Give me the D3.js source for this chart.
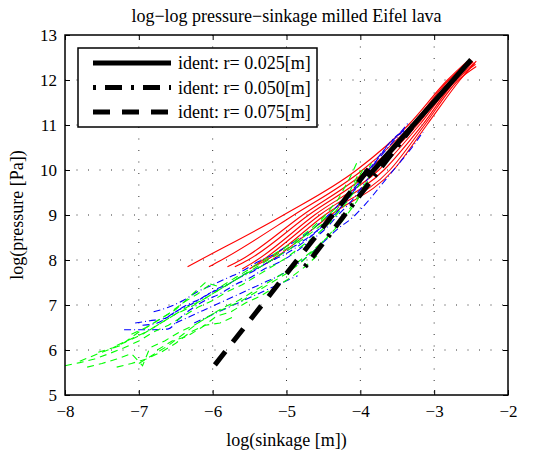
<!DOCTYPE html>
<html>
<head>
<meta charset="utf-8">
<script src="https://cdn.jsdelivr.net/npm/d3@7"></script>
<style>
  body { margin: 0; background: #fff; }
</style>
</head>
<body>
<div id="chart"></div>
<script>
const FONT = "Liberation Serif, Times New Roman, serif";

// Axis ticks
const xTicks = [-8, -7, -6, -5, -4, -3, -2];
const yTicks = [5, 6, 7, 8, 9, 10, 11, 12, 13];

// Measured runs, r = 0.025 m (red)
const redRuns = [
    [[-6.34,7.85],[-6.17,8.0],[-5.04,9.0],[-4.05,10.0],[-3.35,11.0],[-2.82,12.0],[-2.55,12.42]],
    [[-6.05,7.85],[-5.88,8.0],[-4.9,9.0],[-3.97,10.0],[-3.31,11.0],[-2.8,12.0],[-2.5,12.45]],
    [[-5.8,7.85],[-5.62,8.0],[-4.78,9.0],[-3.9,10.0],[-3.27,11.0],[-2.77,12.0],[-2.48,12.42]],
    [[-5.7,7.85],[-5.52,8.0],[-4.7,9.0],[-3.83,10.0],[-3.23,11.0],[-2.75,12.0],[-2.47,12.4]],
    [[-5.6,7.8],[-5.4,8.0],[-4.62,9.0],[-3.75,10.0],[-3.2,11.0],[-2.72,12.0],[-2.45,12.38]],
    [[-5.5,7.8],[-5.32,8.0],[-4.55,9.0],[-3.68,10.0],[-3.16,11.0],[-2.7,12.0],[-2.44,12.35]],
    [[-5.45,7.85],[-5.27,8.0],[-4.48,9.0],[-3.6,10.0],[-3.13,11.0],[-2.67,12.0],[-2.43,12.3]],
    [[-5.3,7.9],[-5.2,8.0],[-4.4,9.0],[-3.55,10.0],[-3.1,11.0],[-2.65,12.0],[-2.43,12.42]]
];

// Measured runs, r = 0.050 m (blue)
const blueRuns = [
    [[-7.2,6.45],[-7.0,6.45],[-6.8,6.45],[-6.6,6.47],[-6.45,6.7],[-6.3,6.9],[-6.1,7.1],[-5.9,7.25],[-5.7,7.45],[-5.5,7.6],[-5.3,7.8],[-5.1,7.95],[-4.9,8.15],[-4.7,8.4],[-4.5,8.65],[-4.3,9.0],[-4.1,9.35],[-3.9,9.8],[-3.7,10.2],[-3.5,10.65],[-3.3,11.0]],
    [[-7.05,6.6],[-6.85,6.65],[-6.65,6.7],[-6.45,6.9],[-6.25,7.05],[-6.05,7.25],[-5.85,7.4],[-5.65,7.6],[-5.45,7.75],[-5.25,7.95],[-5.05,8.1],[-4.85,8.3],[-4.65,8.55],[-4.45,8.85],[-4.25,9.2],[-4.05,9.6],[-3.85,10.05],[-3.65,10.5],[-3.45,10.85],[-3.35,11.05]],
    [[-6.95,6.55],[-6.75,6.6],[-6.55,6.8],[-6.35,7.0],[-6.15,7.15],[-5.95,7.35],[-5.75,7.5],[-5.55,7.7],[-5.35,7.85],[-5.15,8.05],[-4.95,8.25],[-4.75,8.45],[-4.55,8.7],[-4.35,9.0],[-4.15,9.4],[-3.95,9.85],[-3.75,10.3],[-3.55,10.7],[-3.3,10.95]],
    [[-6.5,6.6],[-6.3,6.75],[-6.1,6.9],[-5.9,7.05],[-5.7,7.2],[-5.5,7.35],[-5.3,7.5],[-5.1,7.65],[-4.9,7.85],[-4.7,8.1],[-4.5,8.4],[-4.3,8.7],[-4.1,8.95],[-3.9,9.3],[-3.7,9.7],[-3.5,10.1],[-3.3,10.5],[-3.15,10.85]],
    [[-6.8,6.85],[-6.6,6.95],[-6.4,7.1],[-6.2,7.3],[-6.0,7.45],[-5.8,7.6],[-5.6,7.75],[-5.4,7.95],[-5.2,8.1],[-5.0,8.3],[-4.8,8.5],[-4.6,8.75],[-4.4,9.05],[-4.2,9.4],[-4.0,9.75],[-3.8,10.15],[-3.6,10.55],[-3.4,10.9]],
    [[-6.25,6.6],[-6.05,6.75],[-5.85,6.9],[-5.65,7.05],[-5.45,7.2],[-5.25,7.35],[-5.05,7.5],[-4.85,7.65]]
];

// Measured runs, r = 0.075 m (green)
const greenRuns = [
    [[-8.0,5.65],[-7.8,5.72],[-7.6,5.8],[-7.4,5.92],[-7.2,6.05],[-7.0,6.2],[-6.8,6.4],[-6.6,6.55],[-6.4,6.75],[-6.2,6.95],[-6.0,7.1],[-5.8,7.3],[-5.6,7.45],[-5.4,7.65],[-5.2,7.85],[-5.0,8.05],[-4.8,8.3],[-4.6,8.55],[-4.4,8.85],[-4.2,9.25],[-4.0,9.7],[-3.85,10.15]],
    [[-7.7,5.62],[-7.5,5.7],[-7.3,5.8],[-7.1,5.92],[-6.95,5.65],[-6.85,6.05],[-6.65,6.2],[-6.45,6.4],[-6.25,6.55],[-6.05,6.75],[-5.85,6.95],[-5.65,7.1],[-5.45,7.3],[-5.25,7.5],[-5.05,7.7],[-4.85,7.95],[-4.65,8.2],[-4.45,8.5],[-4.25,8.85],[-4.05,9.3],[-3.9,9.75]],
    [[-7.55,5.95],[-7.35,6.05],[-7.15,6.2],[-6.95,6.35],[-6.75,6.55],[-6.55,6.75],[-6.35,6.95],[-6.15,7.1],[-5.95,7.3],[-5.75,7.5],[-5.55,7.7],[-5.35,7.85],[-5.15,8.05],[-4.95,8.25],[-4.75,8.5],[-4.55,8.75],[-4.35,9.05],[-4.15,9.5],[-4.0,10.0]],
    [[-7.1,6.35],[-6.9,6.5],[-6.7,6.7],[-6.5,6.9],[-6.3,7.2],[-6.1,7.5],[-5.9,7.4],[-5.7,7.6],[-5.5,7.8],[-5.3,8.0],[-5.1,8.2],[-4.9,8.4],[-4.7,8.65],[-4.5,8.95],[-4.3,9.35],[-4.15,9.8],[-4.05,10.15]],
    [[-7.0,5.7],[-6.8,5.9],[-6.6,6.1],[-6.4,6.35],[-6.2,6.6],[-6.0,6.8],[-5.8,6.95],[-5.6,7.1],[-5.4,7.3],[-5.2,7.5],[-5.0,7.7],[-4.8,7.95],[-4.6,8.25],[-4.4,8.6],[-4.2,9.0],[-4.0,9.5],[-3.85,9.95]],
    [[-7.3,6.1],[-7.1,6.25],[-6.9,6.4],[-6.7,6.6],[-6.5,6.8],[-6.3,6.95],[-6.1,7.15],[-5.9,7.35],[-5.7,7.55],[-5.5,7.75],[-5.3,7.95],[-5.1,8.15],[-4.9,8.35],[-4.7,8.6],[-4.5,8.9],[-4.3,9.2],[-4.1,9.6],[-3.95,10.05]],
    [[-6.75,6.0],[-6.55,6.2],[-6.35,6.3],[-6.15,6.5],[-5.95,6.75],[-5.75,6.85],[-5.55,7.05],[-5.35,7.2],[-5.15,7.4],[-4.95,7.6],[-4.75,7.85],[-4.55,8.15]],
    [[-7.3,5.62],[-7.1,5.7],[-6.9,5.8],[-6.7,5.95],[-6.5,6.15],[-6.3,6.4],[-6.1,6.55],[-5.9,6.6],[-5.7,6.75]],
    [[-7.8,5.75],[-7.5,5.95],[-7.25,6.1],[-7.0,6.4],[-6.8,6.6],[-6.6,6.8],[-6.4,7.05],[-6.2,7.25],[-6.0,7.5]]
];

// Identified fits (thick black)
const identLabels = ["ident: r= 0.025[m]", "ident: r= 0.050[m]", "ident: r= 0.075[m]"];
const identLines = [
    [[-3.9, 9.85], [-2.5, 12.45]],
    [[-4.75, 7.85], [-3.3, 10.95]],
    [[-5.97, 5.67], [-3.85, 10.1]]
];
const identDash = [null, "3,9,17,9", "17,12"];

const margin = { top: 35, right: 40, bottom: 57, left: 65 };
const W = 548, H = 452;
const width = W - margin.left - margin.right;
const height = H - margin.top - margin.bottom;

const svg = d3.select("#chart").append("svg")
    .attr("width", W)
    .attr("height", H)
    .attr("font-family", FONT);

svg.append("rect").attr("width", W).attr("height", H).attr("fill", "#fff");

const g = svg.append("g")
    .attr("transform", `translate(${margin.left},${margin.top})`);

const x = d3.scaleLinear().domain([-8, -2]).range([0, width]);
const y = d3.scaleLinear().domain([5, 13]).range([height, 0]);

const fmt = d => d < 0 ? "\u2212" + Math.abs(d) : String(d);

// dotted grid (interior only)
g.append("g").selectAll("line")
    .data(xTicks.slice(1, -1))
    .join("line")
    .attr("x1", d => x(d)).attr("x2", d => x(d))
    .attr("y1", 0).attr("y2", height)
    .attr("stroke", "#333").attr("stroke-width", 1)
    .attr("stroke-dasharray", "1,10.5");

g.append("g").selectAll("line")
    .data(yTicks.slice(1, -1))
    .join("line")
    .attr("y1", d => y(d)).attr("y2", d => y(d))
    .attr("x1", 0).attr("x2", width)
    .attr("stroke", "#333").attr("stroke-width", 1)
    .attr("stroke-dasharray", "1,10.5");

// data curves
const line = d3.line()
    .x(d => x(d[0]))
    .y(d => y(d[1]))
    .curve(d3.curveMonotoneX);

g.append("g").selectAll("path")
    .data(redRuns)
    .join("path")
    .attr("d", line)
    .attr("fill", "none")
    .attr("stroke", "#ff0000")
    .attr("stroke-width", 1.1);

g.append("g").selectAll("path")
    .data(blueRuns)
    .join("path")
    .attr("d", line)
    .attr("fill", "none")
    .attr("stroke", "#0000ff")
    .attr("stroke-width", 1.1)
    .attr("stroke-dasharray", "7,3,1,3");

g.append("g").selectAll("path")
    .data(greenRuns)
    .join("path")
    .attr("d", d3.line().x(d => x(d[0])).y(d => y(d[1])))
    .attr("fill", "none")
    .attr("stroke", "#00ff00")
    .attr("stroke-width", 1.1)
    .attr("stroke-dasharray", "7,5");

g.append("g").selectAll("path")
    .data(identLines)
    .join("path")
    .attr("d", d3.line().x(d => x(d[0])).y(d => y(d[1])))
    .attr("fill", "none")
    .attr("stroke", "#000")
    .attr("stroke-width", 5)
    .attr("stroke-dasharray", (d, i) => identDash[i]);

// axes with inward ticks
const styleAxis = a => {
    a.attr("font-family", FONT).attr("font-size", 17);
    a.select(".domain").remove();
};

g.append("g")
    .attr("transform", `translate(0,${height})`)
    .call(d3.axisBottom(x).tickValues(xTicks).tickSize(-5).tickSizeOuter(0).tickPadding(10).tickFormat(fmt))
    .call(styleAxis);

g.append("g")
    .call(d3.axisTop(x).tickValues(xTicks).tickSize(-5).tickSizeOuter(0).tickFormat(""))
    .call(styleAxis);

g.append("g")
    .call(d3.axisLeft(y).tickValues(yTicks).tickSize(-5).tickSizeOuter(0).tickPadding(8).tickFormat(fmt))
    .call(styleAxis);

g.append("g")
    .attr("transform", `translate(${width},0)`)
    .call(d3.axisRight(y).tickValues(yTicks).tickSize(-5).tickSizeOuter(0).tickFormat(""))
    .call(styleAxis);

g.append("rect")
    .attr("width", width).attr("height", height)
    .attr("fill", "none").attr("stroke", "#000").attr("stroke-width", 1.5);

// legend
const leg = g.append("g").attr("transform", "translate(13,13)");
leg.append("rect")
    .attr("width", 239).attr("height", 79)
    .attr("fill", "#fff").attr("stroke", "#000").attr("stroke-width", 1.5);

identLabels.forEach((label, i) => {
    const ly = 15 + i * 24.5;
    leg.append("line")
        .attr("x1", 15).attr("x2", 93)
        .attr("y1", ly).attr("y2", ly)
        .attr("stroke", "#000").attr("stroke-width", 5)
        .attr("stroke-dasharray", identDash[i]);
    leg.append("text")
        .attr("x", 100).attr("y", ly + 6)
        .attr("font-size", 18)
        .text(label);
});

// title and axis labels
svg.append("text")
    .attr("x", margin.left + width / 2).attr("y", 22)
    .attr("text-anchor", "middle")
    .attr("font-size", 18)
    .text("log\u2212log pressure\u2212sinkage milled Eifel lava");

svg.append("text")
    .attr("x", margin.left + width / 2).attr("y", 446)
    .attr("text-anchor", "middle")
    .attr("font-size", 18)
    .text("log(sinkage [m])");

svg.append("text")
    .attr("transform", `translate(23,${margin.top + height / 2}) rotate(-90)`)
    .attr("text-anchor", "middle")
    .attr("font-size", 18)
    .text("log(pressure [Pa])");
</script>
</body>
</html>
